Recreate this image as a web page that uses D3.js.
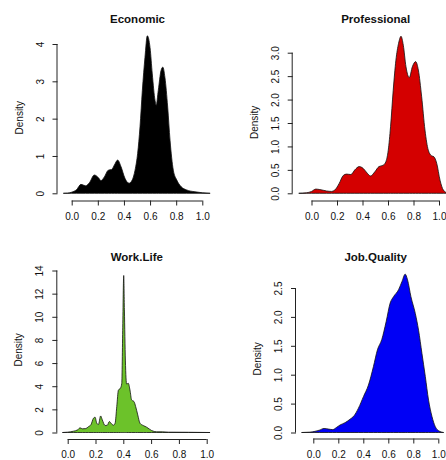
<!DOCTYPE html>
<html>
<head>
<meta charset="utf-8">
<script src="https://cdn.jsdelivr.net/npm/d3@7/dist/d3.min.js"></script>
<style>
  html, body { margin: 0; padding: 0; background: #fff; }
  svg { display: block; }
  text { font-family: "Liberation Sans", Arial, Helvetica, sans-serif; fill: #111; }
</style>
</head>
<body>
<svg id="chart" width="446" height="460"></svg>
<script>
// ---------- data ----------
const titles = ["Economic", "Professional", "Work.Life", "Job.Quality"];
const fills = ["#000000", "#D40000", "#6CC22A", "#0000F5"];

const xTickValues = [0, 0.2, 0.4, 0.6, 0.8, 1.0];
const xTickLabels = ["0.0", "0.2", "0.4", "0.6", "0.8", "1.0"];

const economicYTicks = [0, 1, 2, 3, 4];
const economicYLabels = ["0", "1", "2", "3", "4"];
const professionalYTicks = [0, 0.5, 1, 1.5, 2, 2.5, 3];
const professionalYLabels = ["0.0", "0.5", "1.0", "1.5", "2.0", "2.5", "3.0"];
const workLifeYTicks = [0, 2, 4, 6, 8, 10, 12, 14];
const workLifeYLabels = ["0", "2", "4", "6", "8", "10", "12", "14"];
const jobQualityYTicks = [0, 0.5, 1, 1.5, 2, 2.5];
const jobQualityYLabels = ["0.0", "0.5", "1.0", "1.5", "2.0", "2.5"];

const economicX = [-0.064, -0.03, 0, 0.038, 0.071, 0.107, 0.135, 0.173, 0.204, 0.224, 0.25, 0.28, 0.306, 0.327, 0.352, 0.378, 0.408, 0.439, 0.464, 0.485, 0.505, 0.523, 0.541, 0.561, 0.579, 0.6, 0.617, 0.638, 0.647, 0.663, 0.684, 0.698, 0.714, 0.735, 0.753, 0.778, 0.804, 0.837, 0.88, 0.944, 1.06];
const economicY = [0, 0.005, 0.03, 0.1, 0.24, 0.2, 0.28, 0.49, 0.42, 0.34, 0.44, 0.62, 0.64, 0.76, 0.89, 0.71, 0.4, 0.27, 0.36, 0.62, 1.07, 1.78, 2.76, 3.64, 4.22, 3.9, 3.2, 2.49, 2.36, 2.76, 3.29, 3.38, 3.1, 2.31, 1.42, 0.62, 0.36, 0.18, 0.09, 0.04, 0];

const professionalX = [-0.1, -0.04, 0, 0.034, 0.065, 0.118, 0.157, 0.183, 0.217, 0.249, 0.275, 0.309, 0.34, 0.374, 0.406, 0.437, 0.463, 0.497, 0.529, 0.563, 0.584, 0.602, 0.62, 0.641, 0.662, 0.683, 0.702, 0.72, 0.741, 0.767, 0.791, 0.817, 0.838, 0.864, 0.89, 0.916, 0.942, 0.96, 0.982, 1.008, 1.034, 1.07];
const professionalY = [0, 0.01, 0.04, 0.09, 0.08, 0.05, 0.04, 0.07, 0.21, 0.38, 0.41, 0.4, 0.5, 0.57, 0.53, 0.43, 0.37, 0.46, 0.57, 0.6, 0.68, 0.92, 1.42, 2.2, 2.84, 3.2, 3.35, 3.16, 2.7, 2.47, 2.7, 2.81, 2.63, 2.06, 1.35, 0.92, 0.8, 0.78, 0.64, 0.28, 0.07, 0];

const workLifeX = [-0.038, 0, 0.041, 0.072, 0.089, 0.106, 0.13, 0.149, 0.168, 0.185, 0.197, 0.209, 0.221, 0.237, 0.249, 0.269, 0.285, 0.3, 0.312, 0.329, 0.341, 0.353, 0.365, 0.379, 0.389, 0.396, 0.403, 0.408, 0.415, 0.424, 0.436, 0.448, 0.46, 0.477, 0.489, 0.504, 0.52, 0.544, 0.568, 0.604, 0.64, 0.681, 0.724, 0.868, 1.024];
const workLifeY = [0, 0.03, 0.11, 0.23, 0.4, 0.32, 0.34, 0.5, 0.69, 1.23, 1.32, 0.8, 0.69, 1.43, 1.09, 0.6, 0.63, 0.95, 0.8, 0.63, 0.8, 2.24, 3.67, 3.82, 4.25, 9.1, 13.57, 10.6, 6.26, 4.19, 4.25, 3.67, 2.81, 2.67, 2.24, 1.52, 0.8, 0.6, 0.46, 0.17, 0.06, 0.06, 0.03, 0.02, 0];

const jobQualityX = [-0.094, -0.027, 0.013, 0.048, 0.086, 0.12, 0.155, 0.187, 0.214, 0.254, 0.294, 0.326, 0.361, 0.401, 0.441, 0.481, 0.513, 0.548, 0.583, 0.615, 0.642, 0.682, 0.709, 0.735, 0.754, 0.781, 0.816, 0.842, 0.869, 0.896, 0.922, 0.949, 0.976, 1.003, 1.043];
const jobQualityY = [0, 0.006, 0.02, 0.04, 0.07, 0.06, 0.05, 0.09, 0.13, 0.17, 0.23, 0.29, 0.42, 0.62, 0.82, 1.14, 1.43, 1.61, 1.92, 2.24, 2.35, 2.47, 2.61, 2.74, 2.64, 2.35, 2.06, 1.77, 1.37, 0.97, 0.56, 0.28, 0.1, 0.03, 0];

// ---------- layout (pixels) ----------
// [pixel of x=0, pixel of x=1, pixel of y=0, pixel of top y tick, y-axis line x, x-axis line y, title x, title y]
const layouts = [
  [71.7, 202.3, 193.3, 44.0, 57.5, 200.5, 137.5, 23],
  [311.5, 439.0, 193.3, 52.7, 292.7, 200.5, 375.7, 23],
  [67.7, 206.7, 432.5, 270.5, 57.3, 439.0, 136.8, 261],
  [313.3, 438.3, 432.5, 288.0, 296.0, 438.5, 375.7, 261]
];

const seriesX = [economicX, professionalX, workLifeX, jobQualityX];
const seriesY = [economicY, professionalY, workLifeY, jobQualityY];
const yTicks = [economicYTicks, professionalYTicks, workLifeYTicks, jobQualityYTicks];
const yLabels = [economicYLabels, professionalYLabels, workLifeYLabels, jobQualityYLabels];

const svg = d3.select("#chart");

titles.forEach((title, i) => {
  const [x0, x1, y0, yT, axX, axY, tX, tY] = layouts[i];
  const ticks = yTicks[i];
  const yMaxTick = ticks[ticks.length - 1];
  const x = d3.scaleLinear().domain([0, 1]).range([x0, x1]);
  const y = d3.scaleLinear().domain([0, yMaxTick]).range([y0, yT]);
  const g = svg.append("g");

  const pts = seriesX[i].map((v, k) => [v, seriesY[i][k]]);
  const area = d3.area()
    .x(d => x(d[0]))
    .y0(y(0))
    .y1(d => y(d[1]))
    .curve(d3.curveMonotoneX);
  g.append("path")
    .datum(pts)
    .attr("d", area)
    .attr("fill", fills[i])
    .attr("stroke", "#111")
    .attr("stroke-width", 0.8)
    .attr("stroke-linejoin", "round");

  // x axis (R style: line spans the tick range)
  const xAxis = d3.axisBottom(x)
    .tickValues(xTickValues)
    .tickFormat((d, k) => xTickLabels[k])
    .tickSizeInner(5)
    .tickSizeOuter(0)
    .tickPadding(4);
  const gx = g.append("g").attr("transform", `translate(0,${axY})`).call(xAxis);
  gx.select(".domain").remove();
  gx.append("line")
    .attr("x1", x(xTickValues[0])).attr("x2", x(xTickValues[xTickValues.length - 1]))
    .attr("y1", 0.5).attr("y2", 0.5).attr("stroke", "#222");
  gx.selectAll(".tick line").attr("stroke", "#222");
  gx.selectAll(".tick text")
    .attr("font-size", 10)
    .attr("font-family", "Liberation Sans, Arial, sans-serif")
    .attr("fill", "#111")
    .attr("y", 0).attr("dy", null)
    .attr("transform", "translate(0,19)");

  // y axis
  const yAxis = d3.axisLeft(y)
    .tickValues(ticks)
    .tickFormat((d, k) => yLabels[i][k])
    .tickSizeInner(5)
    .tickSizeOuter(0);
  const gy = g.append("g").attr("transform", `translate(${axX},0)`).call(yAxis);
  gy.select(".domain").remove();
  gy.append("line")
    .attr("y1", y(0)).attr("y2", y(yMaxTick))
    .attr("x1", -0.5).attr("x2", -0.5).attr("stroke", "#222");
  gy.selectAll(".tick line").attr("stroke", "#222");
  gy.selectAll(".tick text")
    .attr("font-size", 10)
    .attr("font-family", "Liberation Sans, Arial, sans-serif")
    .attr("fill", "#111")
    .attr("x", 0).attr("dy", null)
    .attr("text-anchor", "middle")
    .attr("transform", "translate(-14,0) rotate(-90)");

  // title
  g.append("text")
    .attr("x", tX).attr("y", tY)
    .attr("text-anchor", "middle")
    .attr("font-size", 11.5)
    .attr("font-weight", "bold")
    .text(title);

  // y label
  const ylx = axX - 35;
  const yly = (axY + y(ticks[ticks.length - 1] * 1.06)) / 2;
  g.append("text")
    .attr("transform", `translate(${ylx},${yly}) rotate(-90)`)
    .attr("text-anchor", "middle")
    .attr("font-size", 10)
    .text("Density");
});
</script>
</body>
</html>
